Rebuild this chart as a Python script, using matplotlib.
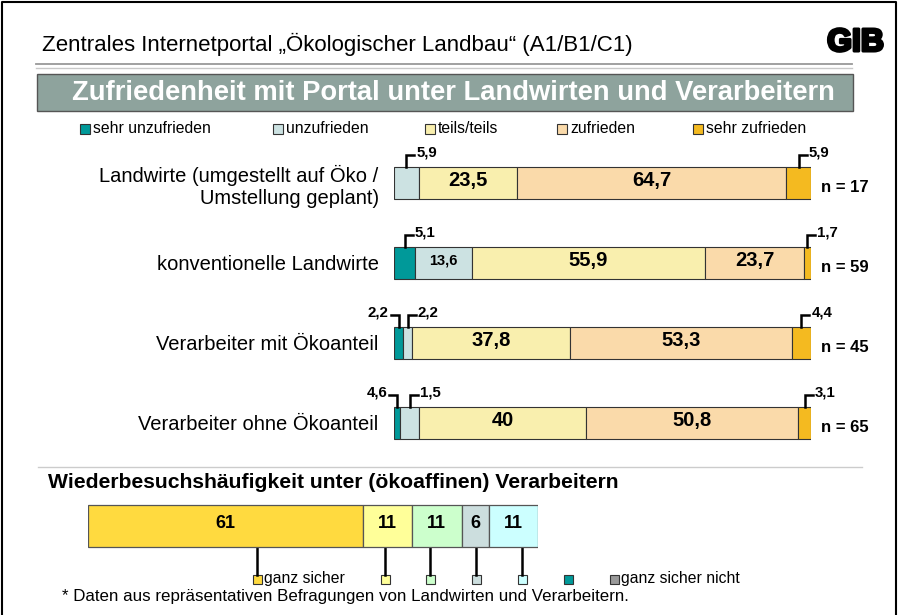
import matplotlib
matplotlib.use("Agg")
import matplotlib.pyplot as plt
import matplotlib.patheffects as pe
from matplotlib.patches import Rectangle
import numpy as np

plt.rcParams["font.family"] = ["Liberation Sans", "DejaVu Sans"]

W, H = 898, 615  # canvas in pixels

# satisfaction survey
categories = ["sehr unzufrieden", "unzufrieden", "teils/teils", "zufrieden", "sehr zufrieden"]
cat_colors = ["#009999", "#CCE2E2", "#F9EFAE", "#FADAAA", "#F4BA20"]
groups = [
    "Landwirte (umgestellt auf Öko /\nUmstellung geplant)",
    "konventionelle Landwirte",
    "Verarbeiter mit Ökoanteil",
    "Verarbeiter ohne Ökoanteil",
]
n_counts = [17, 59, 45, 65]
shares = [
    [0.0, 5.9, 23.5, 64.7, 5.9],
    [5.1, 13.6, 55.9, 23.7, 1.7],
    [2.2, 2.2, 37.8, 53.3, 4.4],
    [1.5, 4.6, 40.0, 50.8, 3.1],
]
# labels as printed in the source (last row swaps the two small values)
shown = [
    ["", "5,9", "23,5", "64,7", "5,9"],
    ["5,1", "13,6", "55,9", "23,7", "1,7"],
    ["2,2", "2,2", "37,8", "53,3", "4,4"],
    ["4,6", "1,5", "40", "50,8", "3,1"],
]
# small segments get a bracket: -1 label left, +1 label right, 0 inside
callout_side = [
    [0, 1, 0, 0, 1],
    [1, 0, 0, 0, 1],
    [-1, 1, 0, 0, 1],
    [-1, 1, 0, 0, 1],
]

# revisit frequency
revisit_labels = ["ganz sicher", "", "", "", "", "", "ganz sicher nicht"]
revisit_values = [61, 11, 11, 6, 11, 0, 0]
revisit_colors = ["#FFDA3F", "#FFFF99", "#CCFFCC", "#CCDEDE", "#CCFFFF", "#009999", "#999999"]


def box(left, top, right, bottom):
    return [left / W, 1 - bottom / H, (right - left) / W, (bottom - top) / H]


fig = plt.figure(figsize=(W / 100, H / 100), dpi=100)

canvas = fig.add_axes([0, 0, 1, 1])
canvas.set_xlim(0, W)
canvas.set_ylim(H, 0)
canvas.axis("off")

# frame and header
canvas.plot([2, 2, 896, 896], [615, 2, 2, 615], color="black", lw=1.5)
canvas.text(42, 44, "Zentrales Internetportal „Ökologischer Landbau“ (A1/B1/C1)",
            fontsize=16, va="center", ha="left")
canvas.text(884, 43, "GIB", fontsize=23, fontweight="bold", va="center", ha="right",
            path_effects=[pe.withStroke(linewidth=2.2, foreground="black")])
canvas.plot([36, 852], [64, 64], color="#999999", lw=1.3)
canvas.plot([36, 852], [67.5, 67.5], color="#C8C8C8", lw=1.0)
canvas.add_patch(Rectangle((37, 74), 816, 37, facecolor="#8EA39D",
                           edgecolor="#555555", lw=1))
canvas.text(453, 93, "Zufriedenheit mit Portal unter Landwirten und Verarbeitern",
            fontsize=19.7, fontweight="bold", color="white", ha="center", va="center")

# legend for satisfaction
legend_x = [80, 273, 425, 557, 693]
for x0, lab, col in zip(legend_x, categories, cat_colors):
    canvas.add_patch(Rectangle((x0, 124), 10, 10, facecolor=col, edgecolor="#333333", lw=0.8))
    canvas.text(x0 + 13, 128.5, lab, fontsize=11.3, va="center", ha="left")

# main stacked bars
ax = fig.add_axes(box(394, 145, 811, 455))
ax.patch.set_alpha(0)
ax.set_xlim(0, 100)
ax.set_ylim(3.4, -0.475)
px_x = 417 / 100  # pixels per percent
px_y = 80  # pixels per row
bar_h = 0.41

data = np.array(shares)
lefts = np.hstack([np.zeros((len(groups), 1)), np.cumsum(data, axis=1)[:, :-1]])
ypos = np.arange(len(groups))
for j, col in enumerate(cat_colors):
    ax.barh(ypos, data[:, j], left=lefts[:, j], height=bar_h, color=col,
            edgecolor="#333333", lw=0.8)

for i in range(len(groups)):
    for j in range(len(categories)):
        v = data[i, j]
        if v <= 0:
            continue
        xc = lefts[i, j] + v / 2
        side = callout_side[i][j]
        if side == 0:
            fs = 14.5 if v >= 20 else 10.5
            ax.text(xc, i - 0.03, shown[i][j], ha="center", va="center",
                    fontsize=fs, fontweight="bold")
        else:
            ytop = i - bar_h / 2
            yl = ytop - 12 / px_y
            xe = xc + side * 8 / px_x
            ax.plot([xc, xc, xe], [ytop, yl, yl], color="black", lw=1.8,
                    clip_on=False, solid_joinstyle="miter")
            ax.text(xe + side * 2 / px_x, yl - 2 / px_y, shown[i][j],
                    ha="left" if side > 0 else "right", va="center",
                    fontsize=10.8, fontweight="bold")
    ax.text(102.3, i + 0.05, f"n = {n_counts[i]}", ha="left", va="center",
            fontsize=12, fontweight="bold")

ax.set_xticks([])
ax.set_yticks(ypos)
ax.set_yticklabels(groups, fontsize=14.5, ha="right", multialignment="right")
ax.tick_params(axis="y", length=0, pad=11)
for s in ax.spines.values():
    s.set_visible(False)

# lower section
canvas.plot([38, 862], [467, 467], color="#CCCCCC", lw=1)
canvas.text(48, 482, "Wiederbesuchshäufigkeit unter (ökoaffinen) Verarbeitern",
            fontsize=15.2, fontweight="bold", va="center", ha="left")

ax2 = fig.add_axes(box(88, 498, 538, 554))
ax2.patch.set_alpha(0)
ax2.set_xlim(0, 100)
ax2.set_ylim(28, -28)
ax2.axis("off")
rv = np.array(revisit_values)
rl = np.concatenate([[0], np.cumsum(rv)[:-1]])
for v, l0, col in zip(rv, rl, revisit_colors):
    if v <= 0:
        continue
    ax2.barh(0, v, left=l0, height=42, color=col, edgecolor="#555555", lw=0.9)
    ax2.text(l0 + v / 2, -2, str(v), ha="center", va="center",
             fontsize=13, fontweight="bold")

key_x = [257, 385, 430, 476, 522, 568, 614]
for x0, v, lab, col in zip(key_x, rv, revisit_labels, revisit_colors):
    if v > 0:
        canvas.plot([x0, x0], [547, 575], color="black", lw=1.8)
    canvas.add_patch(Rectangle((x0 - 4.5, 575), 9, 9, facecolor=col,
                               edgecolor="#333333", lw=0.8))
    if lab:
        canvas.text(x0 + 7, 578.5, lab, fontsize=11.3, va="center", ha="left")

canvas.text(62, 597, "* Daten aus repräsentativen Befragungen von Landwirten und Verarbeitern.",
            fontsize=12.2, va="center", ha="left")

fig.savefig("out.png", dpi=100)
